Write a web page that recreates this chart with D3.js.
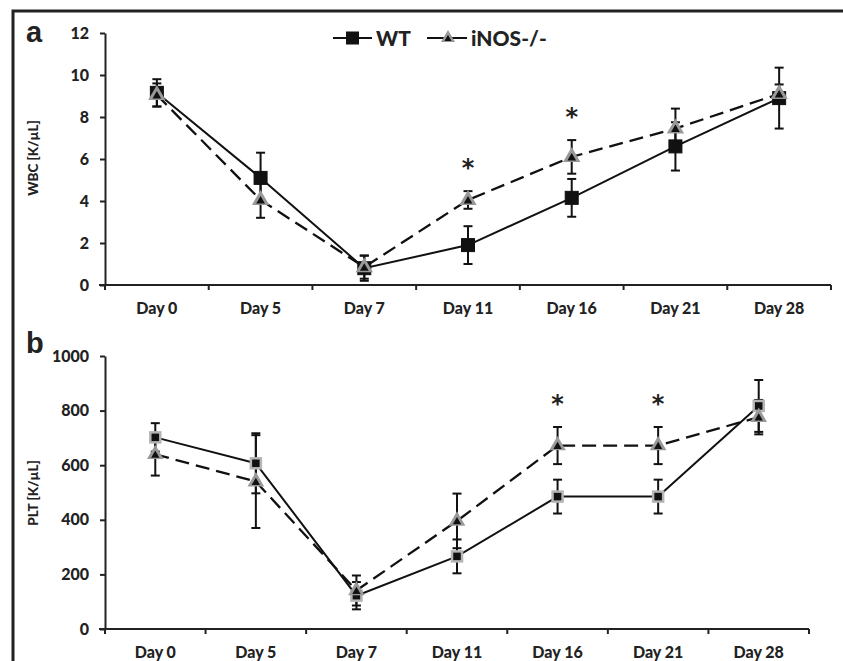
<!DOCTYPE html>
<html>
<head>
<meta charset="utf-8">
<script src="https://cdn.jsdelivr.net/npm/d3@7"></script>
<style>
  body { margin: 0; background: #fff; }
  text { font-family: Lato, "Open Sans", sans-serif; font-weight: 900; fill: #222; }
</style>
</head>
<body>
<script>
// categories
const days = ["Day 0", "Day 5", "Day 7", "Day 11", "Day 16", "Day 21", "Day 28"];

// panel a - WBC [K/uL]
const wbcWT = [9.15, 5.1, 0.8, 1.9, 4.15, 6.6, 8.9];
const wbcWTErr = [0.65, 1.2, 0.6, 0.9, 0.9, 1.15, 1.45];
const wbcKO = [9.05, 4.05, 0.85, 4.05, 6.1, 7.45, 9.1];
const wbcKOErr = [0.55, 0.85, 0.55, 0.42, 0.8, 0.95, 0.45];
const wbcStars = ["Day 11", "Day 16"];
const wbcTicks = [0, 2, 4, 6, 8, 10, 12];

// panel b - PLT [K/uL]
const pltWT = [702, 607, 122, 266, 485, 485, 817];
const pltWTErr = [52, 110, 50, 62, 62, 62, 95];
const pltKO = [640, 540, 141, 396, 672, 672, 776];
const pltKOErr = [78, 170, 55, 100, 68, 68, 63];
const pltStars = ["Day 16", "Day 21"];
const pltTicks = [0, 200, 400, 600, 800, 1000];

const width = 843, height = 661;

const svg = d3.select('body').append('svg')
    .attr('width', width)
    .attr('height', height);

// outer frame (top + left only)
svg.append('path')
    .attr('d', `M13,661 L13,11 L843,11`)
    .attr('fill', 'none')
    .attr('stroke', '#222')
    .attr('stroke-width', 3);

function drawPanel(opt) {
    const x = d3.scaleBand().domain(days).range([opt.x0, opt.x1]);
    const y = d3.scaleLinear().domain([0, opt.max]).range([opt.y0, opt.y1]);
    const g = svg.append('g');

    // y axis
    const yAxis = g.append('g')
        .attr('transform', `translate(${opt.x0},0)`)
        .call(d3.axisLeft(y).tickValues(opt.ticks).tickFormat(d3.format('d'))
            .tickSize(5).tickSizeOuter(0).tickPadding(11));
    yAxis.select('.domain').attr('stroke', '#222').attr('stroke-width', 2);
    yAxis.selectAll('.tick line').attr('stroke', '#222').attr('stroke-width', 2);
    yAxis.selectAll('.tick text').attr('font-size', 16).attr('fill', '#222')
        .style('font-family', 'Lato, sans-serif').style('font-weight', 900);

    // x axis: line, boundary ticks, centered labels
    g.append('line')
        .attr('x1', opt.x0 - 6).attr('x2', opt.x1)
        .attr('y1', opt.y0).attr('y2', opt.y0)
        .attr('stroke', '#222').attr('stroke-width', 2);
    const bounds = days.map(d => x(d)).concat([opt.x1]);
    g.selectAll('.xt').data(bounds).enter().append('line')
        .attr('x1', d => d).attr('x2', d => d)
        .attr('y1', opt.y0).attr('y2', opt.y0 + 5)
        .attr('stroke', '#222').attr('stroke-width', 2);
    g.selectAll('.xl').data(days).enter().append('text')
        .attr('x', d => x(d) + x.bandwidth() / 2)
        .attr('y', opt.y0 + 29)
        .attr('text-anchor', 'middle')
        .attr('font-size', 16)
        .text(d => d);

    // y title
    g.append('text')
        .attr('transform', `translate(${opt.titleX},${opt.titleY}) rotate(-90)`)
        .attr('text-anchor', 'middle')
        .attr('font-size', 13.5)
        .text(opt.title);

    // panel letter
    g.append('text')
        .attr('x', 26).attr('y', opt.letterY)
        .attr('font-size', 29)
        .style('font-family', '"Liberation Sans", Arial, sans-serif')
        .style('font-weight', 'bold')
        .text(opt.letter);

    const cx = d => x(d) + x.bandwidth() / 2;

    // lines
    const line = d3.line().x((v, i) => cx(days[i])).y(v => y(v));
    g.append('path').datum(opt.ko).attr('d', line)
        .attr('fill', 'none').attr('stroke', '#111').attr('stroke-width', 2.3)
        .attr('stroke-dasharray', '14,7');
    g.append('path').datum(opt.wt).attr('d', line)
        .attr('fill', 'none').attr('stroke', '#111').attr('stroke-width', 2);

    // error bars
    function errBars(vals, errs) {
        const eb = g.append('g');
        vals.forEach((v, i) => {
            const px = cx(days[i]);
            const top = y(v + errs[i]), bot = y(v - errs[i]);
            eb.append('line').attr('x1', px).attr('x2', px).attr('y1', top).attr('y2', bot);
            eb.append('line').attr('x1', px - 4.5).attr('x2', px + 4.5).attr('y1', top).attr('y2', top);
            eb.append('line').attr('x1', px - 4.5).attr('x2', px + 4.5).attr('y1', bot).attr('y2', bot);
        });
        eb.selectAll('line').attr('stroke', '#111').attr('stroke-width', 2);
    }
    errBars(opt.wt, opt.wtErr);
    errBars(opt.ko, opt.koErr);

    // squares (WT)
    const s = opt.sq;
    g.selectAll('.sq').data(opt.wt).enter().append('rect')
        .attr('x', (v, i) => cx(days[i]) - s / 2)
        .attr('y', v => y(v) - s / 2)
        .attr('width', s).attr('height', s)
        .attr('fill', '#111')
        .attr('stroke', opt.sqStroke)
        .attr('stroke-width', opt.sqStrokeW);

    // triangles (iNOS-/-)
    const big = d3.symbol().type(d3.symbolTriangle).size(opt.tri);
    const small = d3.symbol().type(d3.symbolTriangle).size(opt.tri * 0.25);
    opt.ko.forEach((v, i) => {
        const t = `translate(${cx(days[i])},${y(v)})`;
        g.append('path').attr('d', big()).attr('transform', t).attr('fill', '#999');
        g.append('path').attr('d', small()).attr('transform', t + ' translate(0,1)').attr('fill', '#111');
    });

    // significance stars
    opt.stars.forEach(d => {
        const i = days.indexOf(d);
        g.append('text')
            .attr('x', cx(d)).attr('y', y(opt.ko[i] + opt.koErr[i]) - 15)
            .attr('text-anchor', 'middle')
            .attr('font-size', 24)
            .style('font-family', '"DejaVu Sans", sans-serif')
            .style('font-weight', 'bold')
            .text('*');
    });
}

drawPanel({
    x0: 105, x1: 831, y0: 285, y1: 33, max: 12, ticks: wbcTicks,
    wt: wbcWT, wtErr: wbcWTErr, ko: wbcKO, koErr: wbcKOErr, stars: wbcStars,
    title: 'WBC [K/µL]', titleX: 38, titleY: 158, letter: 'a', letterY: 42,
    sq: 13, sqStroke: '#111', sqStrokeW: 1, tri: 130
});

drawPanel({
    x0: 105, x1: 809, y0: 629, y1: 356, max: 1000, ticks: pltTicks,
    wt: pltWT, wtErr: pltWTErr, ko: pltKO, koErr: pltKOErr, stars: pltStars,
    title: 'PLT [K/µL]', titleX: 38, titleY: 493, letter: 'b', letterY: 353,
    sq: 10, sqStroke: '#b5b5b5', sqStrokeW: 2.5, tri: 120
});

// legend
const legend = svg.append('g').attr('transform', 'translate(0,38)');
legend.append('line').attr('x1', 333).attr('x2', 372).attr('y1', 0).attr('y2', 0)
    .attr('stroke', '#111').attr('stroke-width', 2);
legend.append('rect').attr('x', 346).attr('y', -6.5).attr('width', 13).attr('height', 13).attr('fill', '#111');
legend.append('text').attr('x', 376).attr('y', 8).attr('font-size', 21).text('WT');
legend.append('line').attr('x1', 427).attr('x2', 467).attr('y1', 0).attr('y2', 0)
    .attr('stroke', '#111').attr('stroke-width', 2);
legend.append('path').attr('d', d3.symbol().type(d3.symbolTriangle).size(85)())
    .attr('transform', 'translate(448,0)').attr('fill', '#999');
legend.append('path').attr('d', d3.symbol().type(d3.symbolTriangle).size(22)())
    .attr('transform', 'translate(448,1)').attr('fill', '#111');
legend.append('text').attr('x', 471).attr('y', 8).attr('font-size', 21).text('iNOS-/-');
</script>
</body>
</html>
